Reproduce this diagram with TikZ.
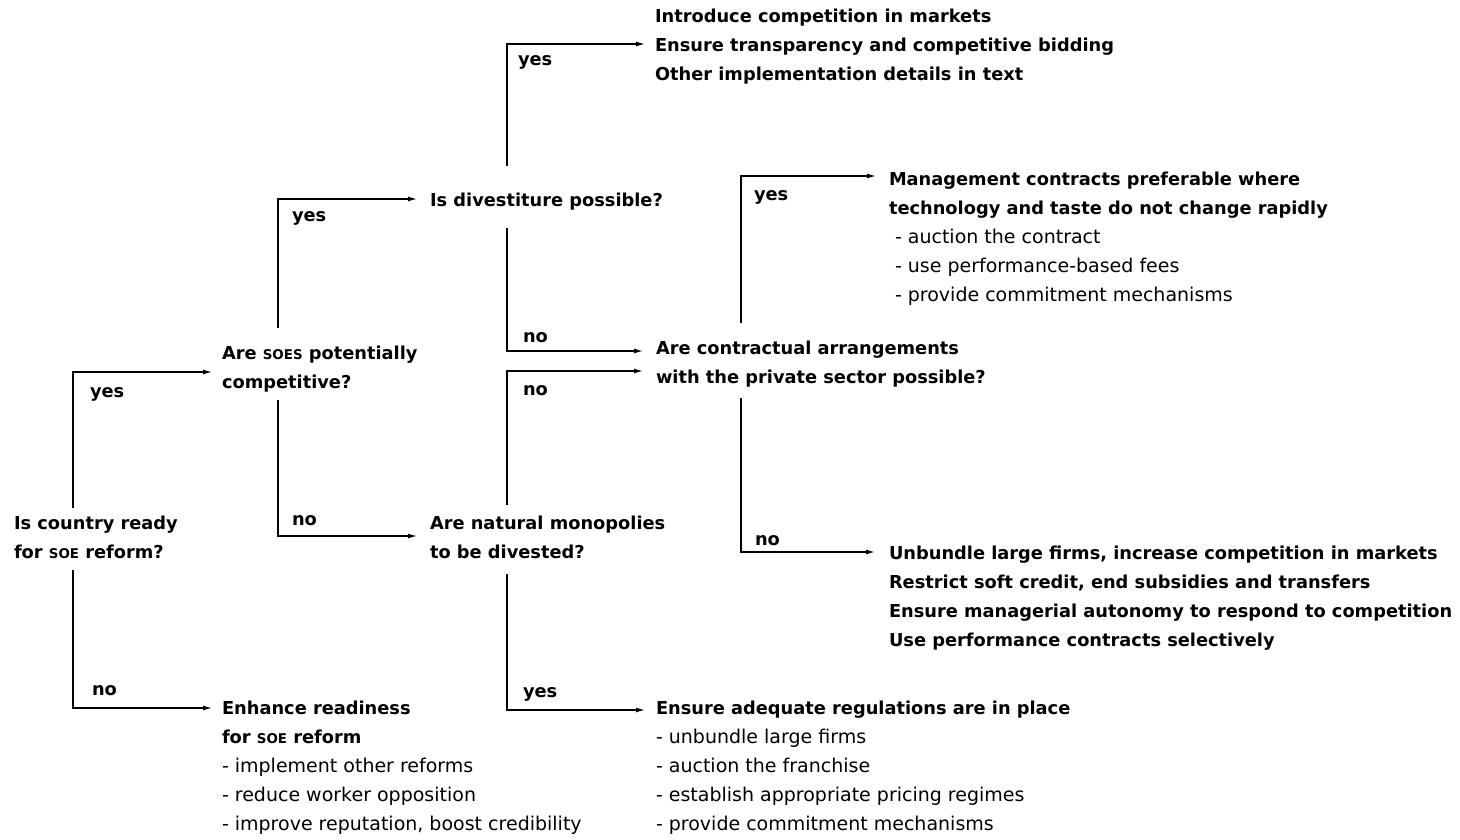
\documentclass[tikz,border=0pt]{standalone}
\usepackage{fontspec}
\setmainfont{DejaVu Sans}
\usetikzlibrary{arrows.meta}
\newcommand\bsz{\fontsize{17.8}{29}\selectfont\bfseries}
\newcommand\rsz{\fontsize{19}{29}\selectfont\mdseries}
\newcommand\smcap[1]{{\fontsize{13.4}{29}\selectfont #1}}
\newcommand\blk[1]{\begin{tabular}[t]{@{}l@{}}#1\end{tabular}}
\tikzset{
  txt/.style={anchor=base west, inner sep=0pt, outer sep=0pt, font=\bsz},
  lbl/.style={anchor=base west, inner sep=0pt, outer sep=0pt, font=\bsz},
  conn/.style={line width=1.2pt, -{Latex[length=9pt,width=5pt]}},
}
\begin{document}
\begin{tikzpicture}[x=1pt,y=-1pt]
\useasboundingbox (0,0) rectangle (1460,839);

% questions
\node[txt] (q1) at (14,529) {\blk{Is country ready\\ for \smcap{SOE} reform?}};
\node[txt] (q2) at (222,359) {\blk{Are \smcap{SOES} potentially\\ competitive?}};
\node[txt] (q3) at (430,206) {\blk{Is divestiture possible?}};
\node[txt] (q4) at (430,529) {\blk{Are natural monopolies\\ to be divested?}};
\node[txt] (q5) at (656,354) {\blk{Are contractual arrangements\\ with the private sector possible?}};

% outcomes
\node[txt] (r1) at (655,22) {\blk{Introduce competition in markets\\ Ensure transparency and competitive bidding\\ Other implementation details in text}};
\node[txt] (r2) at (889,185) {\blk{Management contracts preferable where\\ technology and taste do not change rapidly\\
  \hspace{6pt}\rsz - auction the contract\\
  \hspace{6pt}\rsz - use performance-based fees\\
  \hspace{6pt}\rsz - provide commitment mechanisms}};
\node[txt] (r3) at (889,559) {\blk{Unbundle large firms, increase competition in markets\\ Restrict soft credit, end subsidies and transfers\\ Ensure managerial autonomy to respond to competition\\ Use performance contracts selectively}};
\node[txt] (r4) at (656,714) {\blk{Ensure adequate regulations are in place\\
  \rsz - unbundle large firms\\
  \rsz - auction the franchise\\
  \rsz - establish appropriate pricing regimes\\
  \rsz - provide commitment mechanisms}};
\node[txt] (r5) at (222,714) {\blk{Enhance readiness\\ for \smcap{SOE} reform\\
  \rsz - implement other reforms\\
  \rsz - reduce worker opposition\\
  \rsz - improve reputation, boost credibility}};

% connector start points
\coordinate (c1u) at (73,508);
\coordinate (c1d) at (73,570);
\coordinate (c2u) at (278,328);
\coordinate (c2d) at (278,400);
\coordinate (c3u) at (507,166);
\coordinate (c3d) at (507,228);
\coordinate (c4u) at (507,505);
\coordinate (c4d) at (507,574);
\coordinate (c5u) at (741,323);
\coordinate (c5d) at (741,398);

\draw[conn] (c1u) |- ([shift={(-10,13)}]q2.base west);
\draw[conn] (c1d) |- ([shift={(-10,-6)}]r5.base west);
\draw[conn] (c2u) |- ([shift={(-13,-7)}]q3.base west);
\draw[conn] (c2d) |- ([shift={(-13,7)}]q4.base west);
\draw[conn] (c3u) |- ([shift={(-10,22)}]r1.base west);
\draw[conn] (c3d) |- ([shift={(-13,-3)}]q5.base west);
\draw[conn] (c4u) |- ([shift={(-13,17)}]q5.base west);
\draw[conn] (c4d) |- ([shift={(-11,-4)}]r4.base west);
\draw[conn] (c5u) |- ([shift={(-13,-9)}]r2.base west);
\draw[conn] (c5d) |- ([shift={(-14,-7)}]r3.base west);

% labels
\node[lbl] (l1y) at (90,397) {yes};
\node[lbl] (l1n) at (92,695) {no};
\node[lbl] (l2y) at (292,221) {yes};
\node[lbl] (l2n) at (292,525) {no};
\node[lbl] (l3y) at (518,65) {yes};
\node[lbl] (l3n) at (523,342) {no};
\node[lbl] (l4n) at (523,395) {no};
\node[lbl] (l4y) at (523,697) {yes};
\node[lbl] (l5y) at (754,200) {yes};
\node[lbl] (l5n) at (755,545) {no};
\end{tikzpicture}
\end{document}
